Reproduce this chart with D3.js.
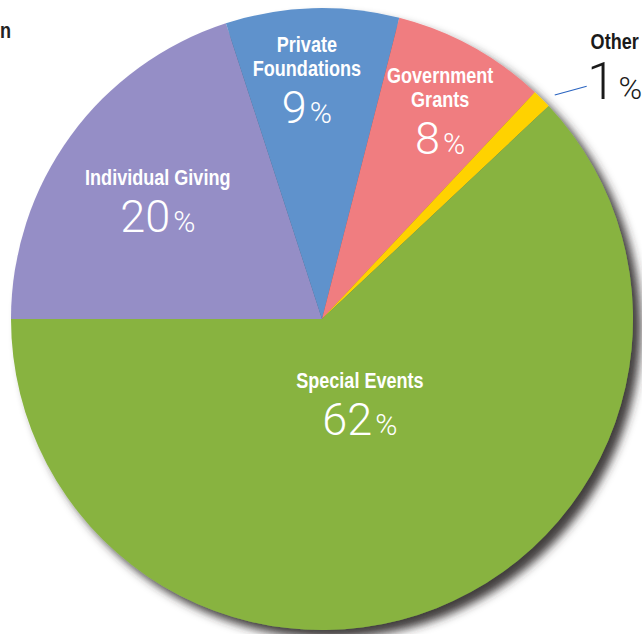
<!DOCTYPE html>
<html>
<head>
<meta charset="utf-8">
<script src="https://cdn.jsdelivr.net/npm/d3@7/dist/d3.min.js"></script>
<style>
  html, body { margin: 0; padding: 0; background: #fff; }
  svg { display: block; }
</style>
</head>
<body>
<svg id="chart" width="642" height="634"></svg>
<script>
// ---- data ----
const categories = ["Individual Giving", "Private Foundations", "Government Grants", "Other", "Special Events"];
const nameLines = [["Individual Giving"], ["Private", "Foundations"], ["Government", "Grants"], ["Other"], ["Special Events"]];
const values = [20, 9, 8, 1, 62];
const colors = ["#958ec6", "#5f92cc", "#f07d80", "#ffd200", "#88b341"];

// ---- layout ----
const W = 642, H = 634;
const cx = 322, cy = 319, R = 311;
const deg = Math.PI / 180;
const condense = 0.84;
// label anchor (percentage baseline) in polar coordinates: angle shift from slice mid, radius
const labelPolar = [
  { da: -8, r: 186 },
  { da: -2.6, r: 197 },
  { da: 6.8, r: 203 },
  { da: 8.1, r: 366 },
  { da: 3.5, r: 122 }
];

const nameFont = "'Liberation Sans', Arial, sans-serif";
const pctFont = "Roboto, 'Open Sans', 'Liberation Sans', sans-serif";

const svg = d3.select("#chart");
const defs = svg.append("defs");
const f = defs.append("filter").attr("id", "shadow")
  .attr("x", "-10%").attr("y", "-10%").attr("width", "130%").attr("height", "130%");
f.append("feDropShadow").attr("dx", 8).attr("dy", 8).attr("stdDeviation", 5)
  .attr("flood-color", "#2e2628").attr("flood-opacity", 0.9);

function condensedText(parent, x, y, str, fill, size) {
  return parent.append("text")
    .attr("transform", `translate(${x},${y}) scale(${condense},1)`)
    .attr("text-anchor", "middle")
    .attr("font-family", nameFont).attr("font-weight", "bold").attr("font-size", size || 21.5)
    .attr("fill", fill).text(str);
}

// cut-off title fragment at the left edge
svg.append("text")
  .attr("transform", `translate(11,38) scale(${condense},1)`)
  .attr("text-anchor", "end")
  .attr("font-family", nameFont).attr("font-weight", "bold").attr("font-size", 21.5)
  .attr("fill", "#222").text("n");

const pie = d3.pie().sort(null).value(d => d).startAngle(-Math.PI / 2).endAngle(1.5 * Math.PI);
const arcs = pie(values);
const arc = d3.arc().innerRadius(0).outerRadius(R);

const g = svg.append("g").attr("transform", `translate(${cx},${cy})`);
const slices = g.append("g").attr("filter", "url(#shadow)");
slices.selectAll("path").data(arcs).join("path")
  .attr("d", arc)
  .attr("fill", (d, i) => colors[i]);

arcs.forEach((d, i) => {
  const mid = (d.startAngle + d.endAngle) / 2 + labelPolar[i].da * deg;
  const [x, y] = d3.pointRadial(mid, labelPolar[i].r);
  const outside = i === 3;
  const fill = outside ? "#1a1a1a" : "#ffffff";
  const lines = nameLines[i];
  const lg = g.append("g");
  if (outside) {
    condensedText(lg, x, y - 50, lines[0], fill);
  } else {
    lines.forEach((ln, k) => {
      condensedText(lg, x, y - 47 - (lines.length - 1 - k) * 24, ln, fill);
    });
  }
  const t = lg.append("text").attr("x", x).attr("y", y).attr("text-anchor", "middle")
    .attr("font-family", pctFont).attr("font-weight", 300).attr("fill", fill);
  t.append("tspan").attr("font-size", outside ? 51 : 45).text(values[i]);
  t.append("tspan").attr("font-size", outside ? 32 : 30).attr("dx", 3).text("%");

  if (outside) {
    const a = (d.startAngle + d.endAngle) / 2;
    const p0 = d3.pointRadial(a + 1.1 * deg, 323);
    const p1 = [x - 28, y - 13];
    g.append("line").attr("x1", p0[0]).attr("y1", p0[1]).attr("x2", p1[0]).attr("y2", p1[1])
      .attr("stroke", "#2a64c0").attr("stroke-width", 1.2);
  }
});
</script>
</body>
</html>
